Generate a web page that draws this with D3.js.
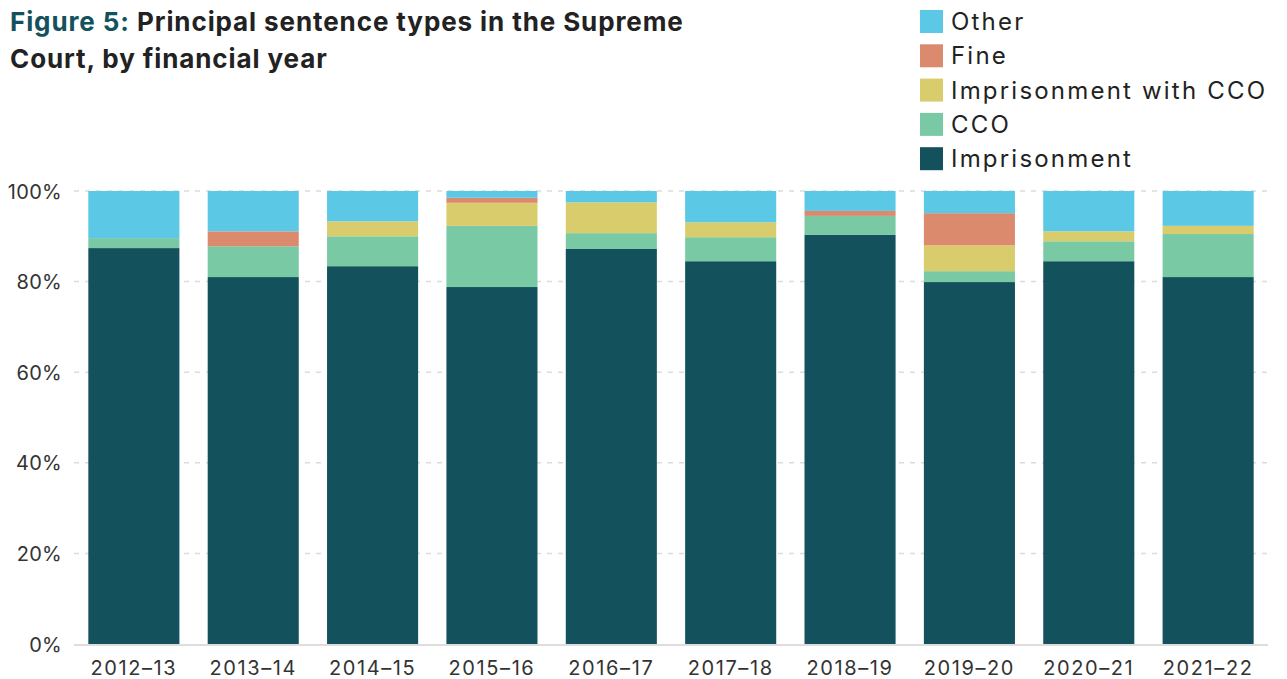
<!DOCTYPE html>
<html><head><meta charset="utf-8">
<script src="https://cdn.jsdelivr.net/npm/d3@7"></script>
<style>body{margin:0;background:#fff;}svg{display:block;}</style>
</head><body>
<svg id="chart" width="1287" height="679"></svg>
<script>
const years = ["2012–13","2013–14","2014–15","2015–16","2016–17","2017–18","2018–19","2019–20","2020–21","2021–22"];
const seriesNames = ["Imprisonment","CCO","Imprisonment with CCO","Fine","Other"];
const imprisonment = [87.4,81.0,83.4,78.8,87.2,84.5,90.3,79.9,84.5,81.0];
const cco          = [2.2,6.8,6.6,13.5,3.5,5.3,4.2,2.4,4.4,9.5];
const impWithCco   = [0,0,3.3,5.1,6.8,3.3,0,5.7,2.2,1.8];
const fine         = [0,3.3,0,1.1,0,0,1.1,7.1,0,0];
const other        = [10.4,8.9,6.7,1.5,2.5,6.9,4.4,4.9,8.9,7.7];
const yTicks = [0,20,40,60,80,100];
const colors = ["#13525c","#79c9a5","#d9cc6c","#db8a6e","#5bc8e6"];

const rows = years.map((y,i)=>({year:y,"Imprisonment":imprisonment[i],"CCO":cco[i],"Imprisonment with CCO":impWithCco[i],"Fine":fine[i],"Other":other[i]}));
const stack = d3.stack().keys(seriesNames)(rows);

const svg = d3.select("#chart");
const font = "Inter, 'Noto Sans', sans-serif";
const x = d3.scaleBand().domain(years).range([74,1268]).paddingInner(0.237).paddingOuter(0.12);
const y = d3.scaleLinear().domain([0,100]).range([644,191]);

// gridlines
svg.append("g").selectAll("line").data(yTicks.filter(t=>t>0)).join("line")
  .attr("x1",74).attr("x2",1268).attr("y1",d=>y(d)).attr("y2",d=>y(d))
  .attr("stroke","#dcdcdc").attr("stroke-width",1.5).attr("stroke-dasharray","5,6");

// bars
const color = d3.scaleOrdinal().domain(seriesNames).range(colors);
svg.append("g").selectAll("g").data(stack).join("g").attr("fill",d=>color(d.key))
  .selectAll("rect").data(d=>d).join("rect")
  .attr("x",d=>x(d.data.year)).attr("width",x.bandwidth())
  .attr("y",d=>y(d[1])).attr("height",d=>Math.max(0,y(d[0])-y(d[1])));

// baseline
svg.append("line").attr("x1",74).attr("x2",1268).attr("y1",y(0)+1).attr("y2",y(0)+1)
  .attr("stroke","#dddddd").attr("stroke-width",2);

// y labels
const yAxis = d3.axisLeft(y).tickValues(yTicks).tickFormat(d=>d+"%").tickSize(0).tickPadding(0);
const ya = svg.append("g").attr("transform","translate(62,0)").call(yAxis);
ya.select(".domain").remove();
ya.selectAll("text").attr("font-family",font).attr("font-size",20).attr("fill","#333").attr("dy","0.35em").attr("letter-spacing","0.3px");

// x labels
const xAxis = d3.axisBottom(x).tickSize(0).tickPadding(0);
const xa = svg.append("g").attr("transform","translate(0,661)").call(xAxis);
xa.select(".domain").remove();
xa.selectAll("text").attr("font-family",font).attr("font-size",20).attr("fill","#333").attr("dy","0.71em").attr("letter-spacing","1.6px");

// title
const title = svg.append("text").attr("font-family",font).attr("font-weight",700).attr("font-size",26).attr("fill","#222").attr("letter-spacing","0.9px");
title.append("tspan").attr("x",10).attr("y",31).attr("fill","#13525c").text("Figure 5:");
title.append("tspan").text(" Principal sentence types in the Supreme");
title.append("tspan").attr("x",10).attr("y",68).text("Court, by financial year");

// legend
const legendOrder = ["Other","Fine","Imprisonment with CCO","CCO","Imprisonment"];
const lg = svg.append("g").selectAll("g").data(legendOrder).join("g")
  .attr("transform",(d,i)=>`translate(920,${10+i*34.3})`);
lg.append("rect").attr("width",23).attr("height",23).attr("fill",d=>color(d));
lg.append("text").attr("x",31).attr("y",11.5).attr("dy","0.35em")
  .attr("font-family",font).attr("font-size",24).attr("fill","#222").attr("letter-spacing","2.2px").text(d=>d);
</script>
</body></html>
